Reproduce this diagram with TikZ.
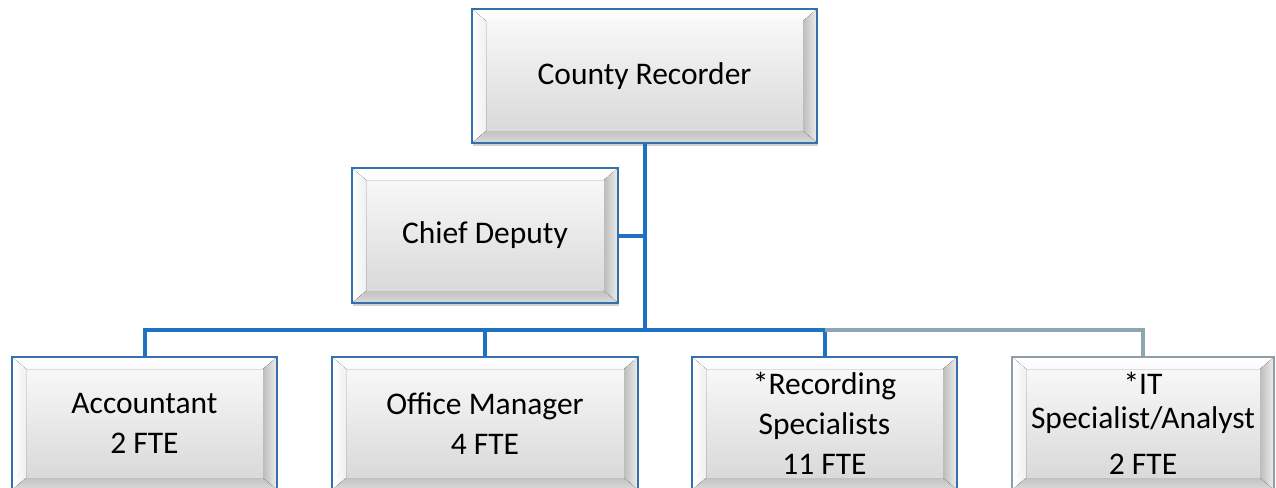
\documentclass[tikz,border=0pt]{standalone}
\usepackage{fontspec}
\setmainfont{Carlito}
\usetikzlibrary{calc,shadows}

\definecolor{boxedge}{HTML}{3470AE}
\definecolor{greyedge}{HTML}{8E9EA6}
\definecolor{linkblue}{HTML}{1E72C3}
\definecolor{linkgrey}{HTML}{8CA7B2}
\definecolor{facetop}{HTML}{FBFBFB}
\definecolor{facebot}{HTML}{D6D6D6}

\tikzset{
  bevelbox/.style={
    rectangle, draw=boxedge, line width=2.2pt,
    top color=facetop, bottom color=facebot,
    inner sep=0pt, align=center,
    font=\fontsize{31.5}{40}\selectfont,
    drop shadow={shadow xshift=1pt, shadow yshift=-3pt, opacity=0.18, fill=black},
    path picture={
      \coordinate (pnw) at (path picture bounding box.north west);
      \coordinate (pne) at (path picture bounding box.north east);
      \coordinate (psw) at (path picture bounding box.south west);
      \coordinate (pse) at (path picture bounding box.south east);
      \coordinate (qnw) at ($(pnw)+(14pt,-12pt)$);
      \coordinate (qne) at ($(pne)+(-14pt,-12pt)$);
      \coordinate (qsw) at ($(psw)+(14pt,12pt)$);
      \coordinate (qse) at ($(pse)+(-14pt,12pt)$);
      % top bevel
      \fill[top color=white, bottom color=facetop] (pnw) -- (pne) -- (qne) -- (qnw) -- cycle;
      % left bevel
      \fill[left color=white, right color=white!94!black] (pnw) -- (qnw) -- (qsw) -- (psw) -- cycle;
      % right bevel
      \fill[left color=white!74!black, right color=white!93!black] (pne) -- (qne) -- (qse) -- (pse) -- cycle;
      % bottom bevel
      \fill[top color=white!76!black, bottom color=white!86!black] (psw) -- (qsw) -- (qse) -- (pse) -- cycle;
    }
  },
  greybox/.style={bevelbox, draw=greyedge},
  link/.style={draw=linkblue, line width=4pt},
  linkg/.style={draw=linkgrey, line width=4pt},
}

\begin{document}
\begin{tikzpicture}[x=1pt, y=-1pt]
  \useasboundingbox (0,0) rectangle (1276,487);

  % positions
  \node[bevelbox, minimum width=345pt, minimum height=134pt] (cr) at (644.5,76) {County Recorder};
  \node[bevelbox, minimum width=266pt, minimum height=135pt] (cd) at (485,235.5) {Chief Deputy};

  \node[bevelbox, minimum width=265pt, minimum height=133pt] (acc) at (144.5,423.5) {Accountant\\2 FTE};
  \node[bevelbox, minimum width=306pt, minimum height=133pt] (om) at (485,423.5) {Office Manager\\4 FTE};
  \node[bevelbox, minimum width=265pt, minimum height=133pt] (rs) at (824.5,423.5) {*Recording\\Specialists\\11 FTE};
  \node[greybox, minimum width=262pt, minimum height=133pt] (it) at (1143,423.5) {*IT\\[-6pt]Specialist/Analyst\\[6pt]2 FTE};

  \coordinate (bus) at (0,330);
  \coordinate (trunk) at (cr.south |- bus);

  % reporting lines
  \draw[link] (cr.south) -- (trunk);
  \draw[link] (cd.east) -- (cd.east -| trunk);
  \draw[link] (acc.north) |- (rs.north |- bus) -- (rs.north);
  \draw[link] (om.north) -- (om.north |- bus);
  \draw[linkg] (rs.north |- bus) -| (it.north);
\end{tikzpicture}
\end{document}
